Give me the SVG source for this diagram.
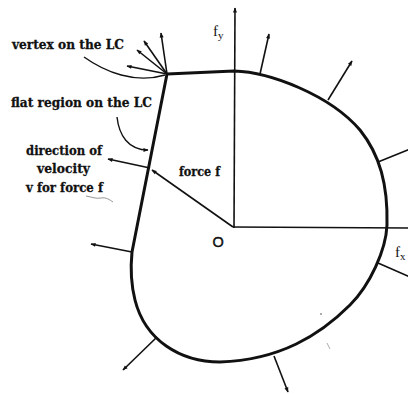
<svg xmlns="http://www.w3.org/2000/svg" width="408" height="394" viewBox="0 0 408 394">
<style>
.lbl{font-family:"DejaVu Serif","Liberation Serif",serif;font-weight:bold;font-size:13.5px;fill:#111;stroke:#111;stroke-width:0.3}
.ax{font-family:"Liberation Serif",serif;font-size:15px;fill:#111}
.n{stroke:#111;stroke-width:1.6;fill:none}
.lc{stroke:#111;stroke-width:3;fill:none;stroke-linejoin:round}
.ldr{stroke:#111;stroke-width:1.4;fill:none}
</style>
<defs>
<marker id="ah" viewBox="0 0 10 10" refX="9" refY="5" markerWidth="8" markerHeight="5" markerUnits="userSpaceOnUse" orient="auto">
<path d="M0,1 L10,5 L0,9 Z" fill="#111"/>
</marker>
<marker id="ahs" viewBox="0 0 10 10" refX="9" refY="5" markerWidth="6" markerHeight="5" markerUnits="userSpaceOnUse" orient="auto">
<path d="M0,1 L10,5 L0,9 Z" fill="#111"/>
</marker>
</defs>
<rect width="408" height="394" fill="#fff"/>
<g id="axes">
<line class="n" x1="234" y1="228" x2="235" y2="8" marker-end="url(#ah)"/>
<line class="n" x1="233" y1="227" x2="408" y2="228"/>
<text class="ax" x="213" y="36">f<tspan font-size="11" dy="3">y</tspan></text>
<text class="ax" x="395" y="257">f<tspan font-size="11" dy="3">x</tspan></text>
<text x="212.5" y="246.5" font-family="Liberation Sans,sans-serif" font-size="14.5" fill="#111" stroke="#111" stroke-width="0.5">O</text>
</g>
<g id="limit-curve">
<path class="lc" d="M167,74 L234,71 C270,72 330,95 360,130 C380,155 388,185 387,225 C386,250 370,285 350,305 C320,335 280,360 220,362 C180,362 145,340 135,300 C130,280 131,262 132,252 Z"/>
</g>
<g id="connectors">
<line class="n" x1="167" y1="74" x2="161" y2="33" marker-end="url(#ah)"/>
<line class="n" x1="167" y1="74" x2="144" y2="41" marker-end="url(#ah)"/>
<line class="n" x1="167" y1="74" x2="137" y2="50" marker-end="url(#ah)"/>
<line class="n" x1="167" y1="74" x2="127" y2="66" marker-end="url(#ah)"/>
<line class="n" x1="260" y1="74" x2="269" y2="34" marker-end="url(#ah)"/>
<line class="n" x1="328" y1="100" x2="352" y2="61" marker-end="url(#ah)"/>
<line class="n" x1="378" y1="162" x2="410" y2="149"/>
<line class="n" x1="378" y1="263" x2="410" y2="277"/>
<line class="n" x1="274" y1="356" x2="288" y2="392" marker-end="url(#ah)"/>
<line class="n" x1="157" y1="337" x2="123" y2="370" marker-end="url(#ah)"/>
<line class="n" x1="132" y1="252" x2="91" y2="244" marker-end="url(#ah)"/>
<line class="n" x1="150" y1="168" x2="108" y2="159" marker-end="url(#ah)"/>
<line class="n" x1="233" y1="227" x2="152" y2="170" marker-end="url(#ah)"/>
<path class="ldr" d="M84,57 C105,72 135,84 165,75"/>
<path class="ldr" d="M117,117 C119,135 128,150 148,150" marker-end="url(#ahs)"/>
</g>
<g id="labels">
<text class="lbl" x="12" y="49" textLength="112" lengthAdjust="spacingAndGlyphs">vertex on the LC</text>
<text class="lbl" x="11" y="107" textLength="141" lengthAdjust="spacingAndGlyphs">flat region on the LC</text>
<text class="lbl" x="26" y="155" textLength="76" lengthAdjust="spacingAndGlyphs">direction of</text>
<text class="lbl" x="37" y="173" textLength="53" lengthAdjust="spacingAndGlyphs">velocity</text>
<text class="lbl" x="26" y="192" textLength="77" lengthAdjust="spacingAndGlyphs">v for force f</text>
<text class="lbl" x="179" y="176" textLength="41" lengthAdjust="spacingAndGlyphs">force f</text>
</g>
<g id="marks">
<path d="M86,196 C92,197 96,199 101,198 C106,197 110,200 113,202" stroke="#666" stroke-width="0.7" fill="none"/>
<circle cx="321" cy="314" r="0.8" fill="#444"/>
<line x1="327" y1="343" x2="330" y2="349" stroke="#888" stroke-width="0.7"/>
</g>
</svg>
